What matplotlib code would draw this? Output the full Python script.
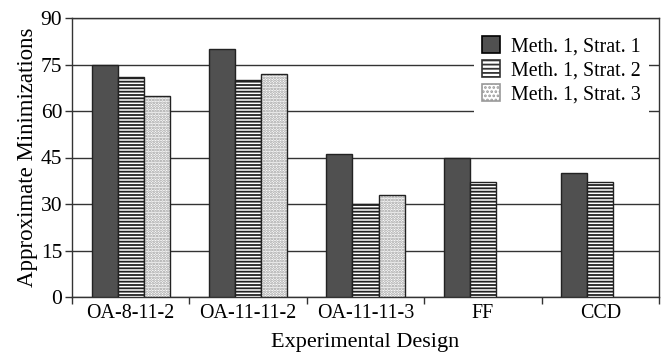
import numpy as np
import matplotlib as mpl
import matplotlib.pyplot as plt
from matplotlib.patches import Patch

plt.rcParams['font.family'] = ['Liberation Serif', 'DejaVu Serif']
plt.rcParams['hatch.linewidth'] = 1.3

designs = ["OA-8-11-2", "OA-11-11-2", "OA-11-11-3", "FF", "CCD"]
strat1 = [75, 80, 46, 45, 40]
strat2 = [71, 70, 30, 37, 37]
strat3 = [65, 72, 33, 0, 0]
labels = ["Meth. 1, Strat. 1", "Meth. 1, Strat. 2", "Meth. 1, Strat. 3"]

x = np.arange(len(designs))
w = 0.222
edge = "#222222"

fig = plt.figure(figsize=(6.66, 3.57), dpi=100)
ax = fig.add_axes([72/666, 1 - 297/357, 587/666, 279/357])

ax.bar(x - w, strat1, w, color="#505050", edgecolor=edge, lw=1, zorder=3)
ax.bar(x, strat2, w, color="white", edgecolor=edge, lw=1, hatch="-----", zorder=3)
# dotted fill in light grey, outline drawn on top
s3 = np.array(strat3, dtype=float)
s3[s3 == 0] = np.nan
ax.bar(x + w, s3, w, color="white", edgecolor="#9a9a9a", lw=0, hatch="......", zorder=3)
ax.bar(x + w, s3, w, fill=False, edgecolor=edge, lw=1, zorder=4)

# legend handles
handles = [
    Patch(facecolor="#505050", edgecolor="black", lw=1.2),
    Patch(facecolor="white", edgecolor="#333333", lw=1.2, hatch="----"),
    Patch(facecolor="white", edgecolor="#999999", lw=1.2, hatch="...."),
]
leg = ax.legend(handles, labels, loc="upper right", fontsize=14.4,
                frameon=True, fancybox=False, edgecolor="none", framealpha=1,
                handlelength=0.9, handleheight=0.9, handletextpad=0.55,
                labelspacing=0.2, borderaxespad=0.5, borderpad=0.4)
leg.set_zorder(5)

ax.set_ylim(0, 90)
ax.set_xlim(-0.5, 4.5)
ax.set_yticks(np.arange(0, 91, 15))
ax.yaxis.grid(True, color="#333333", lw=1)
ax.set_axisbelow(True)

ax.set_xticks(x)
ax.set_xticklabels(designs)
ax.set_xticks(np.arange(-0.5, 5, 1), minor=True)
ax.tick_params(axis="x", which="major", length=0, pad=5, labelsize=14.4)
ax.tick_params(axis="x", which="minor", length=5, width=1, direction="out", color="#333333")
ax.tick_params(axis="y", length=5, width=1, direction="out", labelsize=15.5, pad=2, color="#333333")

for s in ax.spines.values():
    s.set_color("#333333")
    s.set_linewidth(1)

ax.set_xlabel("Experimental Design", fontsize=16, labelpad=7.5)
ax.set_ylabel("Approximate Minimizations", fontsize=16.5, labelpad=2)

fig.savefig("out.png", dpi=100)
